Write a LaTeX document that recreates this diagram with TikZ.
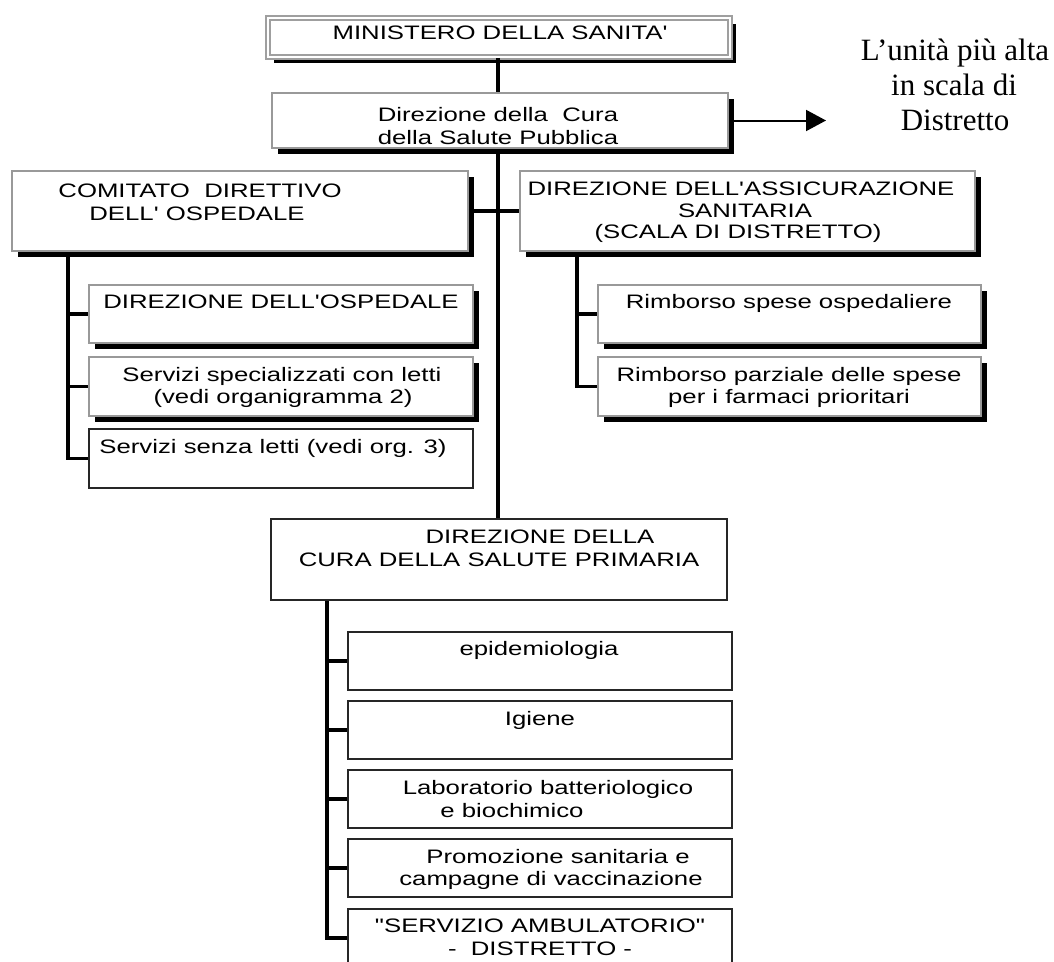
\documentclass[tikz,border=0pt]{standalone}
\usepackage{fontspec}
\setmainfont{Liberation Serif}
\newfontfamily\arialw[FakeStretch=1.32,Ligatures=TeXOff]{Liberation Sans}
\usetikzlibrary{shadows,arrows.meta,fit}
\begin{document}
\begin{tikzpicture}[x=1pt,y=-1pt,
  sbox/.style={rectangle, draw=gray!80, line width=1.5pt, fill=white, inner sep=0pt,
    drop shadow={shadow xshift=5.5pt, shadow yshift=-5.5pt, fill=black, opacity=1}},
  pbox/.style={rectangle, draw=black!85, line width=1.5pt, fill=white, inner sep=0pt},
  txt/.style={anchor=base, inner sep=0pt, font=\arialw\fontsize{19.5}{23}\selectfont},
  note/.style={anchor=base, inner sep=0pt, font=\fontsize{31}{35}\selectfont},
  conn/.style={line width=3.6pt, black},
  arr/.style={line width=2pt, black, -{Triangle[length=20pt,width=21pt]}}
]
\useasboundingbox (0,0) rectangle (1054,961);

% ---- boxes ----
\node[sbox, draw=gray!75, double=white, double distance=2.6pt, line width=1.6pt,
      fit={(268,18) (730,57)}] (min) {};
\node[sbox, fit={(272,93) (728,148)}] (dcura) {};
\node[sbox, fit={(12,171) (468,251)}] (com) {};
\node[sbox, fit={(520,171) (975,251)}] (assic) {};
\node[sbox, fit={(89,285) (473,343)}] (dirosp) {};
\node[sbox, fit={(89,357) (473,416)}] (servspec) {};
\node[pbox, fit={(89,429) (473,488)}] (senza) {};
\node[sbox, fit={(598,285) (981,343)}] (rimb1) {};
\node[sbox, fit={(598,357) (981,416)}] (rimb2) {};
\node[pbox, fit={(271,519) (727,600)}] (prim) {};
\node[pbox, fit={(348,632) (732,690)}] (epid) {};
\node[pbox, fit={(348,701) (732,759)}] (igiene) {};
\node[pbox, fit={(348,770) (732,828)}] (lab) {};
\node[pbox, fit={(348,839) (732,897)}] (promo) {};
\node[pbox, fit={(348,909) (732,990)}] (servamb) {};

% ---- spine coordinates ----
\coordinate (sp) at (498,0);
\coordinate (cl) at (68,0);
\coordinate (al) at (577,0);
\coordinate (pl) at (327,0);
\coordinate (arrEnd) at (826,120.5);

% ---- connectors ----
\draw[conn] (min.south -| sp) -- (dcura.north -| sp);
\draw[conn] (dcura.south -| sp) -- (prim.north -| sp);
\draw[conn] (com.east) -- (assic.west);
\draw[conn] ([yshift=-5pt]com.south -| cl) |- (senza.west);
\draw[conn] (cl |- dirosp.west) -- (dirosp.west);
\draw[conn] (cl |- servspec.west) -- (servspec.west);
\draw[conn] ([yshift=-5pt]assic.south -| al) |- (rimb2.west);
\draw[conn] (al |- rimb1.west) -- (rimb1.west);
\draw[conn] (prim.south -| pl) |- (servamb.west |- 0,938);
\draw[conn] (pl |- epid.west) -- (epid.west);
\draw[conn] (pl |- igiene.west) -- (igiene.west);
\draw[conn] (pl |- lab.west) -- (lab.west);
\draw[conn] (pl |- promo.west) -- (promo.west);
\draw[arr] ([xshift=5pt]dcura.east) -- (arrEnd);

% ---- texts ----
\node[txt] (minT) at (500,39) {MINISTERO DELLA SANITA'};
\node[txt] (dcuraT1) at (498,121) {Direzione della\ \ Cura};
\node[txt] (dcuraT2) at (498,144) {della Salute Pubblica};
\node[txt] (comT1) at (200,197) {COMITATO\ \ DIRETTIVO};
\node[txt] (comT2) at (197,220) {DELL' OSPEDALE};
\node[txt] (assicT1) at (741,195) {DIREZIONE DELL'ASSICURAZIONE};
\node[txt] (assicT2) at (745,217) {SANITARIA};
\node[txt] (assicT3) at (738,238) {(SCALA DI DISTRETTO)};
\node[txt] (dirospT) at (281,308) {DIREZIONE DELL'OSPEDALE};
\node[txt] (servspecT1) at (282,381) {Servizi specializzati con letti};
\node[txt] (servspecT2) at (283,403) {(vedi organigramma 2)};
\node[txt] (senzaT) at (273,453) {Servizi senza letti (vedi org. 3)};
\node[txt] (rimb1T) at (789,308) {Rimborso spese ospedaliere};
\node[txt] (rimb2T1) at (789,381) {Rimborso parziale delle spese};
\node[txt] (rimb2T2) at (789,403) {per i farmaci prioritari};
\node[txt] (primT1) at (540,543) {DIREZIONE DELLA};
\node[txt] (primT2) at (499,566) {CURA DELLA SALUTE PRIMARIA};
\node[txt] (epidT) at (539,655) {epidemiologia};
\node[txt] (igieneT) at (540,725) {Igiene};
\node[txt] (labT1) at (548,794) {Laboratorio batteriologico};
\node[txt] (labT2) at (512,817) {e biochimico};
\node[txt] (promoT1) at (558,863) {Promozione sanitaria e};
\node[txt] (promoT2) at (551,885) {campagne di vaccinazione};
\node[txt] (servambT1) at (540,932) {"SERVIZIO AMBULATORIO"};
\node[txt] (servambT2) at (540,955) {-\ \ DISTRETTO -};

\node[note] (note1) at (955,60) {L’unità più alta};
\node[note] (note2) at (954,95) {in scala di};
\node[note] (note3) at (955,130) {Distretto};
\end{tikzpicture}
\end{document}
